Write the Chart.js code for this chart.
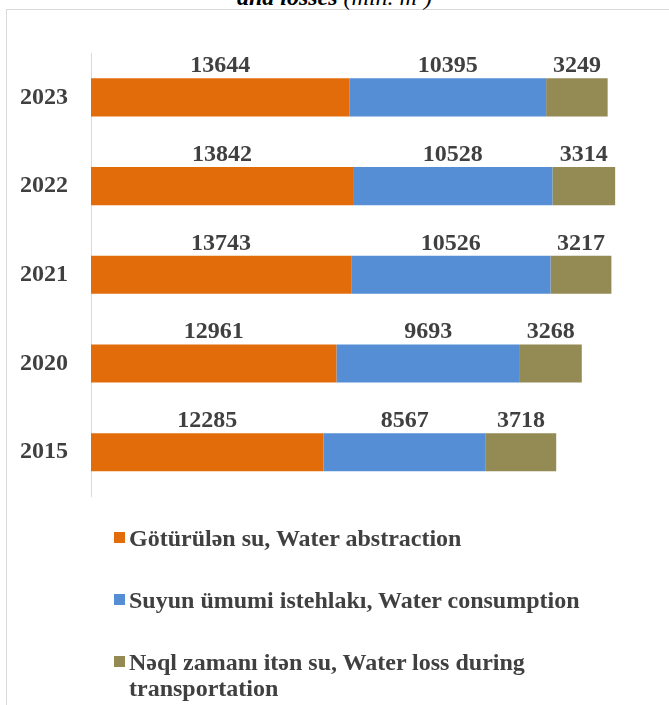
<!DOCTYPE html>
<html>
<head>
<meta charset="utf-8">
<script src="https://cdn.jsdelivr.net/npm/chart.js@4"></script>
<style>
    html, body {
        margin: 0;
        padding: 0;
        width: 669px;
        height: 705px;
        overflow: hidden;
        background: #fff;
        font-family: "Liberation Serif", "Times New Roman", serif;
    }

    .frame {
        position: absolute;
        left: 6px;
        top: 9px;
        width: 720px;
        height: 760px;
        border: 1px solid #d9d9d9;
    }

    .title {
        position: absolute;
        left: 0;
        top: -15px;
        width: 669px;
        text-align: center;
        font-size: 24px;
        line-height: 24px;
        font-style: italic;
        color: #000;
    }

    .title b {
        font-weight: bold;
    }

    .chart-box {
        position: absolute;
        left: 0;
        top: 0;
        width: 669px;
        height: 534px;
    }

    .legend {
        position: absolute;
        left: 114px;
        top: 525px;
        width: 540px;
    }

    .legend-item {
        display: flex;
        align-items: flex-start;
        margin-bottom: 36px;
    }

    .legend-box {
        width: 11px;
        height: 11px;
        margin-top: 7px;
        margin-right: 4px;
        flex: none;
    }

    .legend-text {
        font-size: 24px;
        line-height: 26px;
        font-weight: bold;
        color: #404040;
        width: 500px;
    }
</style>
</head>
<body>

<div class="frame"></div>
<div class="title"><b>and losses</b> (mln. m³)</div>

<div class="chart-box">
    <canvas id="waterChart"></canvas>
</div>

<div class="legend" id="legend"></div>

<script>
const years = ['2023', '2022', '2021', '2020', '2015'];

const abstraction = [13644, 13842, 13743, 12961, 12285];
const consumption = [10395, 10528, 10526, 9693, 8567];
const lossTransport = [3249, 3314, 3217, 3268, 3718];

const seriesNames = [
    'Götürülən su, Water abstraction',
    'Suyun ümumi istehlakı, Water consumption',
    'Nəql zamanı itən su, Water loss during transportation'
];

const colors = ['#e36c0a', '#558ed5', '#948a54'];

const labelFont = 'bold 24px "Liberation Serif"';

/* value labels above each segment */
const barLabels = {
    id: 'barLabels',
    afterDatasetsDraw(chart) {
        const ctx = chart.ctx;
        ctx.save();
        ctx.font = labelFont;
        ctx.fillStyle = '#404040';
        ctx.textAlign = 'center';
        ctx.textBaseline = 'alphabetic';
        chart.data.datasets.forEach((ds, i) => {
            const meta = chart.getDatasetMeta(i);
            meta.data.forEach((bar, j) => {
                const left = bar.base;
                const right = bar.x;
                const top = bar.y - bar.height / 2;
                ctx.fillText(ds.data[j], (left + right) / 2, top - 6);
            });
        });
        ctx.restore();
    }
};

const ctx = document.getElementById('waterChart').getContext('2d');

const chart = new Chart(ctx, {
    type: 'bar',
    data: {
        labels: years,
        datasets: [
            { label: seriesNames[0], data: abstraction, backgroundColor: colors[0] },
            { label: seriesNames[1], data: consumption, backgroundColor: colors[1] },
            { label: seriesNames[2], data: lossTransport, backgroundColor: colors[2] }
        ]
    },
    options: {
        indexAxis: 'y',
        responsive: true,
        maintainAspectRatio: false,
        animation: false,
        // bottom padding has to cover tick padding + half a label
        layout: {
            padding: { top: 53, bottom: 37, right: 10, left: 0 }
        },
        datasets: {
            bar: {
                barPercentage: 0.43,
                categoryPercentage: 1,
                borderWidth: 0
            }
        },
        scales: {
            x: {
                stacked: true,
                display: false,
                min: 0,
                max: 30000
            },
            y: {
                stacked: true,
                grid: { display: false, drawTicks: false },
                border: { display: true, color: '#d9d9d9', width: 1 },
                ticks: {
                    color: '#404040',
                    padding: 23,
                    font: { family: 'Liberation Serif', size: 24, weight: 'bold' }
                },
                afterFit(scale) {
                    scale.width = 91;
                }
            }
        },
        plugins: {
            legend: { display: false },
            tooltip: { enabled: false }
        }
    },
    plugins: [barLabels]
});

/* legend built as html so the long label can wrap */
const legend = document.getElementById('legend');
chart.data.datasets.forEach(ds => {
    const item = document.createElement('div');
    item.className = 'legend-item';
    const box = document.createElement('span');
    box.className = 'legend-box';
    box.style.background = ds.backgroundColor;
    const text = document.createElement('span');
    text.className = 'legend-text';
    text.textContent = ds.label;
    item.appendChild(box);
    item.appendChild(text);
    legend.appendChild(item);
});
</script>

</body>
</html>
